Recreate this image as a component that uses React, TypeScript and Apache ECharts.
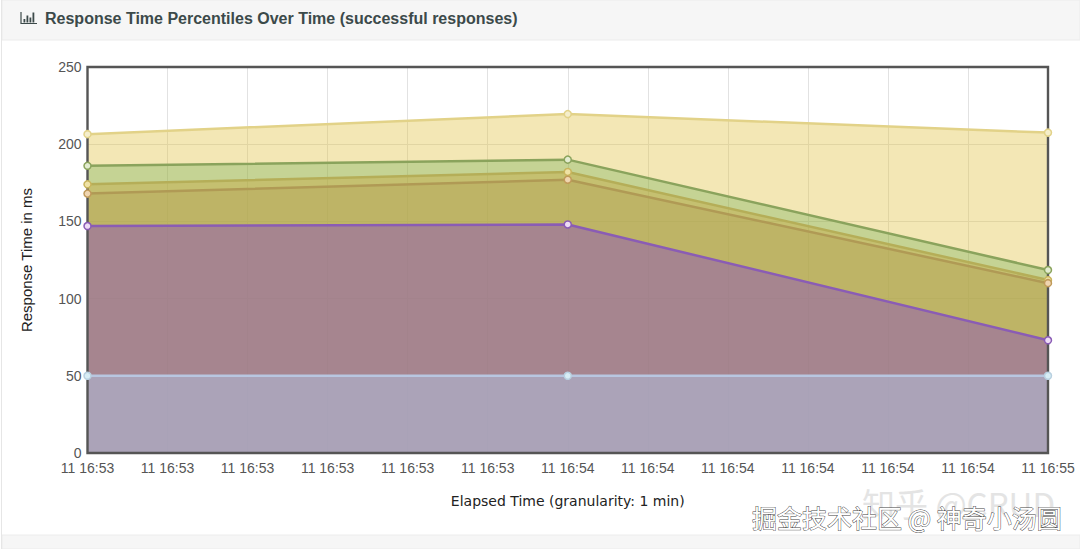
import React, { useEffect, useRef } from "react";
import * as echarts from "echarts";

const title = "Response Time Percentiles Over Time (successful responses)";
const xLabels = [
  "11 16:53", "11 16:53", "11 16:53", "11 16:53", "11 16:53", "11 16:53", "11 16:54",
  "11 16:54", "11 16:54", "11 16:54", "11 16:54", "11 16:54", "11 16:55",
];
const yellowValues = [206.5, null, null, null, null, null, 219.5, null, null, null, null, null, 207.5];
const greenValues = [186, null, null, null, null, null, 190, null, null, null, null, null, 118.5];
const goldValues = [174, null, null, null, null, null, 182, null, null, null, null, null, 112];
const orangeValues = [168, null, null, null, null, null, 177, null, null, null, null, null, 110];
const purpleValues = [147, null, null, null, null, null, 148, null, null, null, null, null, 73];
const blueValues = [50, null, null, null, null, null, 50, null, null, null, null, null, 50];

const FONT = "'Liberation Sans', Arial, sans-serif";

const area = (name: string, data: (number | null)[], line: string, fill: string) => ({
  name,
  type: "line",
  data,
  connectNulls: true,
  showSymbol: false,
  lineStyle: { color: line, width: 2.5 },
  areaStyle: { color: fill, origin: "start", opacity: 1 },
  z: 3,
});

const dots = (name: string, data: (number | null)[], line: string, dot: string) => ({
  name,
  type: "line",
  data,
  connectNulls: true,
  showSymbol: true,
  showAllSymbol: true,
  symbol: "circle",
  symbolSize: 7,
  clip: false,
  lineStyle: { width: 0, opacity: 0 },
  itemStyle: { color: dot, borderColor: line, borderWidth: 1.5, opacity: 1 },
  z: 5,
});

export default function App() {
  const ref = useRef<HTMLDivElement>(null);
  useEffect(() => {
    document.body.style.margin = "0";
    const chart = echarts.init(ref.current!, undefined, { renderer: "svg" });
    chart.setOption({
      animation: false,
      backgroundColor: "#ffffff",
      grid: { left: 87.5, right: 32, top: 67, bottom: 96, show: false },
      xAxis: {
        type: "category",
        data: xLabels,
        boundaryGap: false,
        name: "Elapsed Time (granularity: 1 min)",
        nameLocation: "middle",
        nameGap: 41,
        nameTextStyle: { color: "#222", fontSize: 14, fontFamily: "'DejaVu Sans', sans-serif" },
        axisLine: { show: false },
        axisTick: { show: false },
        splitLine: { show: true, lineStyle: { color: "#e2e2e2", width: 1 } },
        axisLabel: { color: "#555", fontSize: 14, fontFamily: FONT, margin: 8, interval: 0, showMinLabel: true, showMaxLabel: true },
      },
      yAxis: {
        type: "value",
        min: 0,
        max: 250,
        interval: 50,
        name: "Response Time in ms",
        nameLocation: "middle",
        nameGap: 54,
        nameRotate: 90,
        nameTextStyle: { color: "#222", fontSize: 15, fontFamily: FONT },
        axisLine: { show: false },
        axisTick: { show: false },
        splitLine: { show: true, lineStyle: { color: "#e2e2e2", width: 1 } },
        axisLabel: { color: "#555", fontSize: 14, fontFamily: FONT, margin: 6 },
      },
      series: [
        area("Yellow", yellowValues, "#e2d288", "rgba(225,194,70,0.4)"),
        area("Green", greenValues, "#8aa35c", "rgba(100,167,77,0.32)"),
        area("Gold", goldValues, "#b5ae58", "rgba(198,165,58,0.4)"),
        area("Orange", orangeValues, "#b09a55", "rgba(180,162,88,0.4)"),
        area("Purple", purpleValues, "#8a5cb5", "rgba(141,86,184,0.5)"),
        area("Blue", blueValues, "#b8c6e0", "rgba(175,193,225,0.5)"),
        dots("Yellow points", yellowValues, "#e2d288", "#f5eecb"),
        dots("Green points", greenValues, "#8aa35c", "#e3ecd0"),
        dots("Gold points", goldValues, "#c9b45c", "#efe2a5"),
        dots("Orange points", orangeValues, "#c09a5a", "#efd5b0"),
        dots("Purple points", purpleValues, "#8a5cb5", "#eddcf5"),
        dots("Blue points", blueValues, "#b8d0e0", "#d8edf5"),
      ],
      graphic: [
        { type: "rect", z: 0, shape: { x: 2, y: 0, width: 1078, height: 40 }, style: { fill: "#f6f6f6", stroke: "#ececec", lineWidth: 1 } },
        { type: "rect", z: 0, shape: { x: 2, y: 535, width: 1078, height: 14 }, style: { fill: "#f6f6f6", stroke: "#ececec", lineWidth: 1 } },
        { type: "line", z: 0, shape: { x1: 1.5, y1: 0, x2: 1.5, y2: 549 }, style: { stroke: "#e6e6e6", lineWidth: 1 } },
        { type: "rect", z: 4, shape: { x: 87.5, y: 67, width: 960.5, height: 386 }, style: { fill: "none", stroke: "#555555", lineWidth: 2.4 } },
        { type: "polyline", z: 1, shape: { points: [[21, 12], [21, 23.5], [37, 23.5]] }, style: { fill: "none", stroke: "#3c4a4a", lineWidth: 1.2 } },
        { type: "rect", z: 1, shape: { x: 23.5, y: 19, width: 1.8, height: 3.5 }, style: { fill: "#3c4a4a" } },
        { type: "rect", z: 1, shape: { x: 26.5, y: 15.5, width: 1.8, height: 7 }, style: { fill: "#3c4a4a" } },
        { type: "rect", z: 1, shape: { x: 29.5, y: 17.5, width: 1.8, height: 5 }, style: { fill: "#3c4a4a" } },
        { type: "rect", z: 1, shape: { x: 32.5, y: 12.5, width: 1.8, height: 10 }, style: { fill: "#3c4a4a" } },
        {
          type: "text", z: 1, x: 45, y: 18, silent: true,
          style: { text: title, fill: "#3c4a4a", font: `bold 16px ${FONT}`, textVerticalAlign: "middle", textBaseline: "middle" },
        },
        {
          type: "text", z: 5, x: 862, y: 503, silent: true,
          style: { text: "知乎 @CRUD", fill: "#e4e4e4", font: `33px 'Noto Sans CJK SC', sans-serif`, textBaseline: "middle", textVerticalAlign: "middle" },
        },
        {
          type: "text", z: 6, x: 752, y: 517, silent: true,
          style: {
            text: "掘金技术社区 @ 神奇小汤圆",
            fill: "#ffffff",
            stroke: "#444444",
            lineWidth: 0.9,
            font: `25px 'Noto Sans CJK SC', sans-serif`,
            textBaseline: "middle",
            textVerticalAlign: "middle",
          },
        },
      ],
    });
    return () => chart.dispose();
  }, []);
  return <div ref={ref} style={{ position: "fixed", left: 0, top: 0, width: 1080, height: 549 }} />;
}
